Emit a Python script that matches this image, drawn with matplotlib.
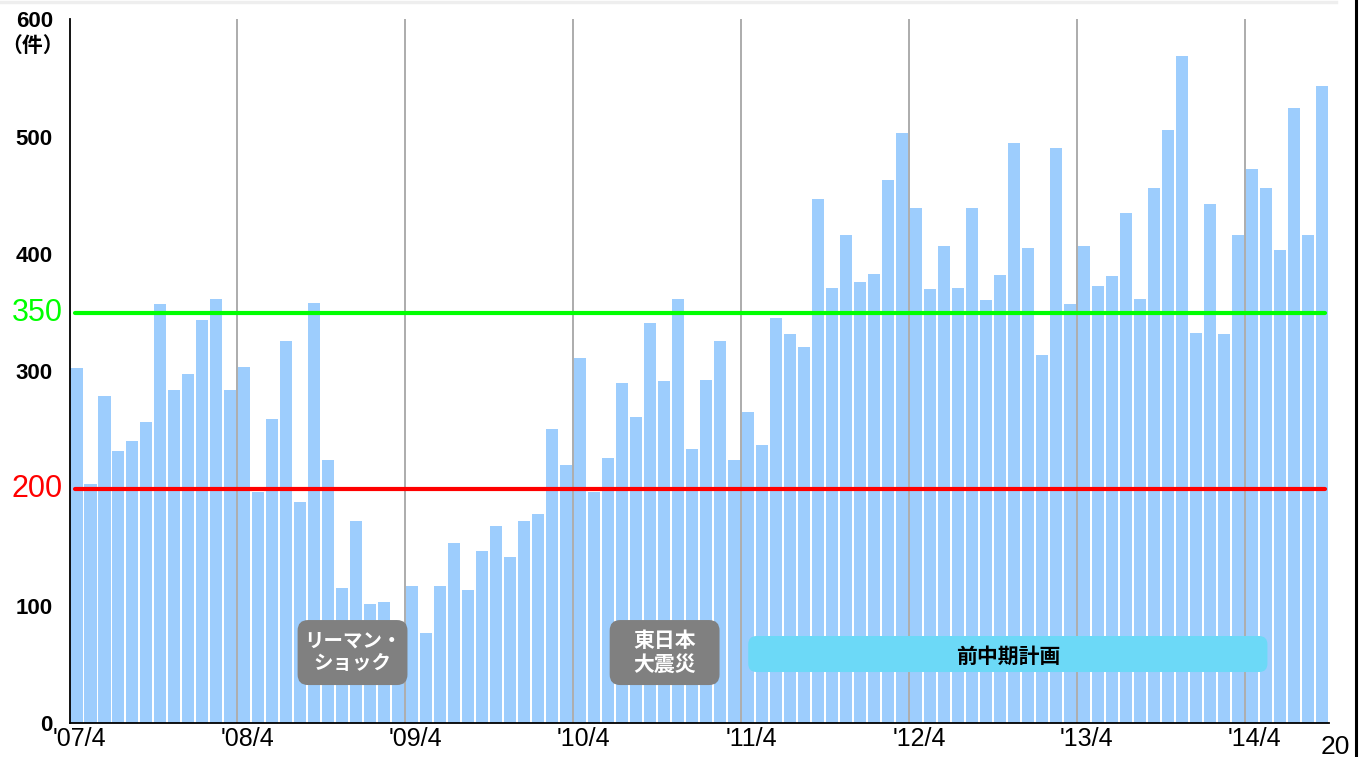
import matplotlib
matplotlib.use("Agg")
import matplotlib.pyplot as plt
from matplotlib.patches import FancyBboxPatch
from matplotlib.lines import Line2D

plt.rcParams['font.family'] = ['Noto Sans CJK JP', 'DejaVu Sans']

# ---- data (monthly counts, Apr 2007 - Sep 2014) ----
values = [
    303, 204, 279, 232, 241, 257, 357, 284, 298, 344, 362, 284,   # FY07
    304, 197, 259, 326, 189, 358, 224, 115, 172, 102, 103, 75,    # FY08
    117, 77, 117, 154, 114, 147, 168, 142, 172, 178, 251, 220,    # FY09
    311, 197, 226, 290, 261, 341, 292, 362, 234, 293, 326, 224,   # FY10
    265, 237, 345, 332, 321, 447, 371, 416, 376, 383, 463, 503,   # FY11
    439, 370, 407, 371, 439, 361, 382, 495, 405, 314, 490, 357,   # FY12
    407, 373, 381, 435, 362, 456, 506, 569, 333, 443, 332, 416,   # FY13
    472, 456, 403, 524, 416, 543,                                 # FY14
]
year_labels = ["'07/4", "'08/4", "'09/4", "'10/4", "'11/4", "'12/4", "'13/4", "'14/4"]
y_ticks = [0, 100, 300, 400, 500, 600]
target_low = 200
target_high = 350
events = [("リーマン・\nショック", 15.8, 23.65, 14), ("東日本\n大震災", 38.1, 45.95, 15)]
plan_label = "前中期計画"
plan_span = (48.0, 85.1)

fig = plt.figure(figsize=(13.66, 7.57), dpi=100)
ax = fig.add_axes([69.5 / 1366, (757 - 723.3) / 757, 1259.5 / 1366, 704 / 757])

x = list(range(len(values)))
ax.bar(x, values, width=0.86, color='#9DCDFD', edgecolor='none', zorder=2)

ax.set_xlim(-0.5, len(values) - 0.5)
ax.set_ylim(0, 600)

# vertical year grid lines
for k in range(1, len(year_labels)):
    ax.axvline(12 * k - 0.5, color='#A6A6A6', lw=1.3, zorder=3)

# target lines
ax.plot([-0.1, len(values) - 0.8], [target_low, target_low], color='#FF0000', lw=3, zorder=4, solid_capstyle='round')
ax.plot([-0.1, len(values) - 0.8], [target_high, target_high], color='#00FF00', lw=3, zorder=4, solid_capstyle='round')

# spines
for s in ['top', 'right']:
    ax.spines[s].set_visible(False)
ax.spines['left'].set_linewidth(1.3)
ax.spines['bottom'].set_linewidth(1.3)
ax.spines['left'].set_zorder(5)
ax.spines['bottom'].set_zorder(5)

# ticks
ax.set_xticks([12 * k + 0.2 for k in range(len(year_labels))])
ax.set_xticklabels(year_labels, family=['Liberation Sans', 'DejaVu Sans'], fontsize=18)
ax.tick_params(axis='x', length=0, pad=3)
ax.set_yticks(y_ticks)
ax.set_yticklabels([str(v) for v in y_ticks], family=['Liberation Sans', 'DejaVu Sans'],
                   fontsize=16, fontweight='bold')
ax.tick_params(axis='y', length=0, pad=12)
for lbl in ax.get_yticklabels():
    if lbl.get_text() == '0':
        lbl.set_y(0.008)

# colored target labels
ax.text(-1.0, target_low, str(target_low), color='#FF0000', fontsize=22, ha='right', va='center',
        family=['Liberation Sans', 'DejaVu Sans'], transform=ax.transData)
ax.text(-1.0, target_high, str(target_high), color='#00FF00', fontsize=22, ha='right', va='center',
        family=['Liberation Sans', 'DejaVu Sans'], transform=ax.transData)

# unit label
fig.text(33 / 1366, 1 - 45 / 757, '（件）', fontsize=15, fontweight='bold', ha='center', va='center')

# event boxes
aspect = 14 / 1.1733
for label, x0, x1, fs in events:
    box = FancyBboxPatch((x0, 32.6), x1 - x0, 88 - 32.6,
                         boxstyle='round,pad=0,rounding_size=0.75', mutation_aspect=aspect,
                         facecolor='#808080', edgecolor='none', zorder=6)
    ax.add_patch(box)
    ax.text((x0 + x1) / 2, 60.5, label, color='white', fontsize=fs, fontweight='bold',
            ha='center', va='center', linespacing=1.2, zorder=7)

px0, px1 = plan_span
plan_box = FancyBboxPatch((px0, 43.7), px1 - px0, 74.4 - 43.7,
                          boxstyle='round,pad=0,rounding_size=0.6', mutation_aspect=aspect,
                          facecolor='#6CD9F7', edgecolor='none', zorder=6)
ax.add_patch(plan_box)
ax.text((px0 + px1) / 2, 57, plan_label, color='black', fontsize=15, fontweight='bold',
        ha='center', va='center', zorder=7)

# slide decorations
fig.add_artist(Line2D([1355.5 / 1366, 1355.5 / 1366], [0, 1], color='black', lw=2.2, transform=fig.transFigure))
fig.add_artist(Line2D([0, 1336 / 1366], [1 - 1.5 / 757, 1 - 1.5 / 757], color='#EEEEEE', lw=2.5, transform=fig.transFigure))
fig.text(1321 / 1366, 1 - 754 / 757, '20', fontsize=19, ha='left', va='baseline',
         family=['Liberation Sans', 'DejaVu Sans'])

fig.savefig('out.png', dpi=100)
